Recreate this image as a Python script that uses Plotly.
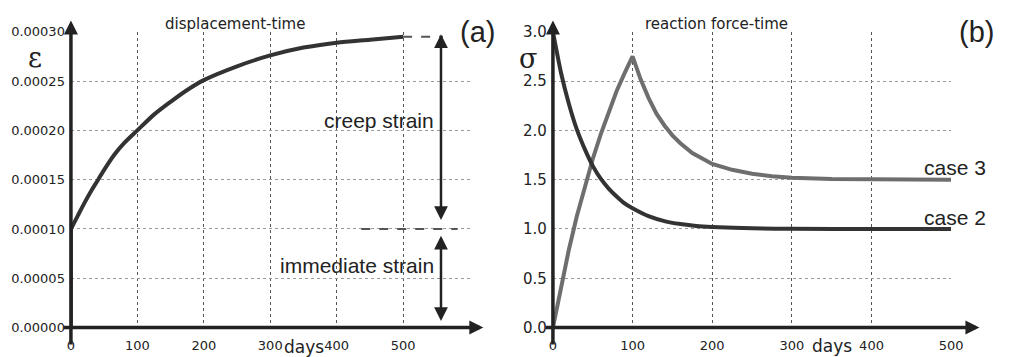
import plotly.graph_objects as go

# ---------------- data ----------------
# (a) displacement-time
jump_days = [0, 0]
jump_strain = [0.0, 0.000100]
creep_days = [0, 10, 20, 30, 40, 50, 65, 80, 100, 125, 150, 175, 200, 250, 300, 350, 400, 450, 500]
creep_strain = [0.000100, 0.000113, 0.000126, 0.000138, 0.000149, 0.000160, 0.000175, 0.000187,
                0.000200, 0.000216, 0.000229, 0.000241, 0.000251, 0.000265, 0.000276, 0.000284,
                0.000289, 0.000292, 0.000295]
immediate_strain = 0.000100

# (b) reaction force-time
case2_days = [0, 5, 10, 20, 30, 40, 50, 60, 70, 80, 90, 100, 120, 140, 160, 180, 200, 250, 300, 400, 500]
case2_sigma = [3.0, 2.79, 2.59, 2.27, 2.01, 1.81, 1.64, 1.51, 1.41, 1.33, 1.26, 1.21, 1.13, 1.08,
               1.05, 1.03, 1.02, 1.007, 1.002, 1.0, 1.0]
case3_days = [0, 10, 20, 30, 40, 50, 60, 70, 80, 90, 100, 110, 120, 130, 140, 150, 160, 175, 200,
              225, 250, 275, 300, 350, 400, 450, 500]
case3_sigma = [0.0, 0.41, 0.79, 1.13, 1.43, 1.71, 1.96, 2.19, 2.40, 2.58, 2.75, 2.52, 2.33, 2.17,
               2.05, 1.95, 1.87, 1.77, 1.66, 1.60, 1.56, 1.535, 1.52, 1.507, 1.503, 1.501, 1.50]

x_ticks = [0, 100, 200, 300, 400, 500]
eps_ticks = [0.0, 0.00005, 0.00010, 0.00015, 0.00020, 0.00025, 0.00030]
sig_ticks = [0.0, 0.5, 1.0, 1.5, 2.0, 2.5, 3.0]

# ---------------- layout helpers ----------------
W, H = 1017, 357
def px(x):
    return x / W
def py(y):
    return 1 - y / H

AX_L = (68, 473)
AX_R = (557.7, 962.3)
Y_TOP, Y_BOT = 24, 335.5

DARK = "#333333"
GREY = "#6e6e6e"
AXC = "#222222"
SANS = "Liberation Sans, Arial, sans-serif"
DJV = "DejaVu Sans, sans-serif"

fig = go.Figure()

fig.add_trace(go.Scatter(x=jump_days, y=jump_strain, mode="lines",
                         line=dict(color=DARK, width=4), xaxis="x", yaxis="y", showlegend=False))
fig.add_trace(go.Scatter(x=creep_days, y=creep_strain, mode="lines",
                         line=dict(color=DARK, width=4, shape="spline", smoothing=0.8),
                         xaxis="x", yaxis="y", showlegend=False))
fig.add_trace(go.Scatter(x=case3_days, y=case3_sigma, mode="lines",
                         line=dict(color=GREY, width=4), xaxis="x2", yaxis="y2", showlegend=False))
fig.add_trace(go.Scatter(x=case2_days, y=case2_sigma, mode="lines",
                         line=dict(color=DARK, width=4, shape="spline", smoothing=0.8),
                         xaxis="x2", yaxis="y2", showlegend=False))

ydom = [py(Y_BOT), py(Y_TOP)]
common_x = dict(showline=False, zeroline=False, ticks="", showgrid=True, griddash="dot",
                gridcolor="#555555", gridwidth=1, tickfont=dict(family=DJV, size=13, color=AXC),
                ticklabelstandoff=8)
common_y = dict(showline=False, zeroline=False, ticks="", showgrid=True, griddash="dot",
                gridcolor="#9a9a9a", gridwidth=1, ticklabelstandoff=5)

fig.update_layout(
    width=W, height=H,
    margin=dict(l=0, r=0, t=0, b=0),
    paper_bgcolor="white", plot_bgcolor="white",
    xaxis=dict(domain=[px(AX_L[0]), px(AX_L[1])], range=[0, 600],
               tickvals=x_ticks + [600], ticktext=[str(v) for v in x_ticks] + [""],
               anchor="y", **common_x),
    yaxis=dict(domain=ydom, range=[0, 0.0003], tickvals=eps_ticks,
               ticktext=["%.5f" % v for v in eps_ticks], anchor="x",
               tickfont=dict(family=DJV, size=13, color=AXC), **common_y),
    xaxis2=dict(domain=[px(AX_R[0]), px(AX_R[1])], range=[0, 500],
                tickvals=x_ticks, ticktext=[str(v) for v in x_ticks], anchor="y2", **common_x),
    yaxis2=dict(domain=ydom, range=[0, 3.0], tickvals=sig_ticks,
                ticktext=["%.1f" % v for v in sig_ticks], anchor="x2",
                tickfont=dict(family=DJV, size=15, color=AXC), **common_y),
)

ann = []
shapes = []

# axis arrows (paper coords, pixel offsets)
def axis_arrows(x0, x_tip):
    ann.append(dict(xref="paper", yref="paper", x=px(x_tip), y=py(Y_BOT), ax=-(x_tip - x0 + 2), ay=0,
                    text="", showarrow=True, arrowhead=2, arrowsize=0.8, arrowwidth=3.5, arrowcolor=AXC))
    ann.append(dict(xref="paper", yref="paper", x=px(x0), y=py(12), ax=0, ay=(Y_BOT + 2 - 12),
                    text="", showarrow=True, arrowhead=2, arrowsize=0.8, arrowwidth=3.5, arrowcolor=AXC))

axis_arrows(AX_L[0], 487)
axis_arrows(AX_R[0], 991)

# dashed reference lines in (a)
shapes.append(dict(type="line", xref="x", yref="y", x0=creep_days[-1], x1=560,
                   y0=creep_strain[-1], y1=creep_strain[-1],
                   line=dict(color="#555555", width=2, dash="dash")))
shapes.append(dict(type="line", xref="x", yref="y", x0=437, x1=582,
                   y0=immediate_strain, y1=immediate_strain,
                   line=dict(color="#555555", width=2, dash="dash")))

# double arrows in (a)
ARX = 557
ann.append(dict(xref="x", yref="y", axref="x", ayref="y", x=ARX, y=0.000109, ax=ARX, ay=0.000299,
                text="", showarrow=True, arrowhead=2, arrowside="end+start", arrowsize=1.1,
                arrowwidth=2.5, arrowcolor=AXC))
ann.append(dict(xref="x", yref="y", axref="x", ayref="y", x=ARX, y=0.0000068, ax=ARX, ay=0.0000946,
                text="", showarrow=True, arrowhead=2, arrowside="end+start", arrowsize=1.1,
                arrowwidth=2.5, arrowcolor=AXC))

def label(text, x, y, size, family=SANS, xanchor="center", yanchor="middle"):
    ann.append(dict(xref="paper", yref="paper", x=px(x), y=py(y), text=text, showarrow=False,
                    xanchor=xanchor, yanchor=yanchor, borderpad=0,
                    font=dict(family=family, size=size, color=AXC)))

label("displacement-time", 235, 16, 15, DJV)
label("reaction force-time", 724, 16, 15, DJV)
label("(a)", 481, 24, 29)
label("(b)", 988, 24, 29)
label("ε", 31, 51, 27, "DejaVu Serif, serif")
label("σ", 532, 52, 27, "DejaVu Serif, serif")
label("days", 305, 344, 17, DJV, yanchor="top")
label("days", 841, 343, 17, DJV, yanchor="top")
label("creep strain", 381, 117, 21)
label("immediate strain", 359, 270, 21)
label("case 3", 966, 167, 21)
label("case 2", 966, 220, 21)

fig.update_layout(annotations=ann, shapes=shapes)
fig.write_html("out.html")
